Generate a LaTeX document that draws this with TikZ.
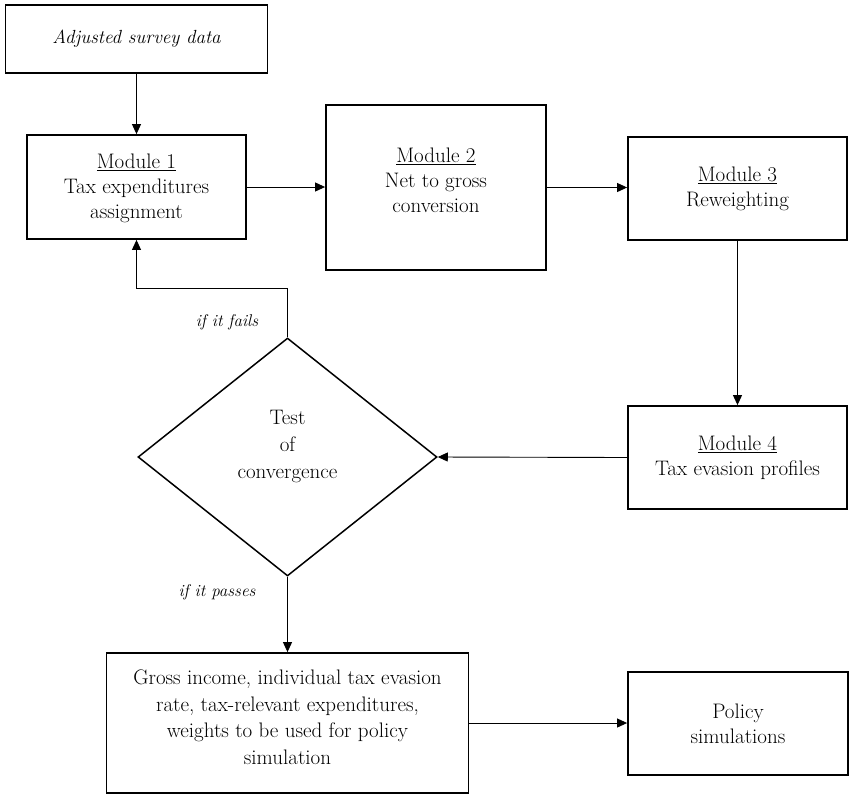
\documentclass[tikz,border=0pt]{standalone}
\usetikzlibrary{shapes.geometric,arrows.meta}
\begin{document}
\begin{tikzpicture}[x=1pt,y=-1pt,
  boxnode/.style={draw=black,line width=1.8pt,inner sep=0pt,align=center,
    font=\fontsize{21}{25}\selectfont},
  txt/.style={align=center,inner sep=0pt,font=\fontsize{21}{25}\selectfont},
  lbl/.style={inner sep=0pt,font=\fontsize{17}{20}\selectfont\itshape},
  conn/.style={draw=black,line width=0.9pt,-{Triangle[length=10pt,width=9pt]}},
  plain/.style={draw=black,line width=0.9pt}]
\useasboundingbox (0,0) rectangle (856,801);
% nodes
\node[boxnode,minimum width=262pt,minimum height=68pt,font=\fontsize{19}{22}\selectfont\itshape] (adj) at (136.5,39) {Adjusted survey data};
\node[boxnode,minimum width=219pt,minimum height=104pt] (m1) at (136.5,187) {};
\node[txt] (m1t) at (136.5,188) {\underline{Module 1}\\Tax expenditures\\assignment};
\node[boxnode,minimum width=220pt,minimum height=165pt] (m2) at (436,187.5) {};
\node[txt] (m2t) at (436,180) {\underline{Module 2}\\Net to gross\\conversion};
\node[boxnode,minimum width=219pt,minimum height=103pt] (m3) at (737.5,188.5) {\underline{Module 3}\\Reweighting};
\node[boxnode,minimum width=219pt,minimum height=103pt] (m4) at (737.5,457.5) {\underline{Module 4}\\Tax evasion profiles};
\node[draw=black,line width=1.5pt,diamond,shape aspect=1.256,minimum width=299pt,minimum height=238pt,inner sep=0pt] (dia) at (287.5,457) {};
\node[txt,font=\fontsize{21}{27}\selectfont] (diat) at (287.5,446) {Test\\of\\convergence};
\node[boxnode,minimum width=362pt,minimum height=140pt] (gross) at (287.5,723) {};
\node[txt,font=\fontsize{21}{26.5}\selectfont] (grosst) at (287.5,717) {Gross income, individual tax evasion\\rate, tax-relevant expenditures,\\weights to be used for policy\\simulation};
\node[boxnode,minimum width=220pt,minimum height=103pt] (pol) at (738,723.5) {Policy\\simulations};
\node[lbl] (fails) at (227,322) {if it fails};
\node[lbl] (passes) at (217,592) {if it passes};
\coordinate (fbk) at (287.5,288);
% connectors
\draw[conn] (adj.south) -- (m1.north);
\draw[conn] (m1.east) -- (m1.east -| m2.west);
\draw[conn] (m2.east) -- (m2.east -| m3.west);
\draw[conn] (m3.south) -- (m4.north);
\draw[conn] (m4.west) -- (dia.east);
\draw[conn] (dia.north) -- (fbk) -| (m1.south);
\draw[conn] (dia.south) -- (gross.north);
\draw[conn] (gross.east) -- (gross.east -| pol.west);
\end{tikzpicture}
\end{document}
